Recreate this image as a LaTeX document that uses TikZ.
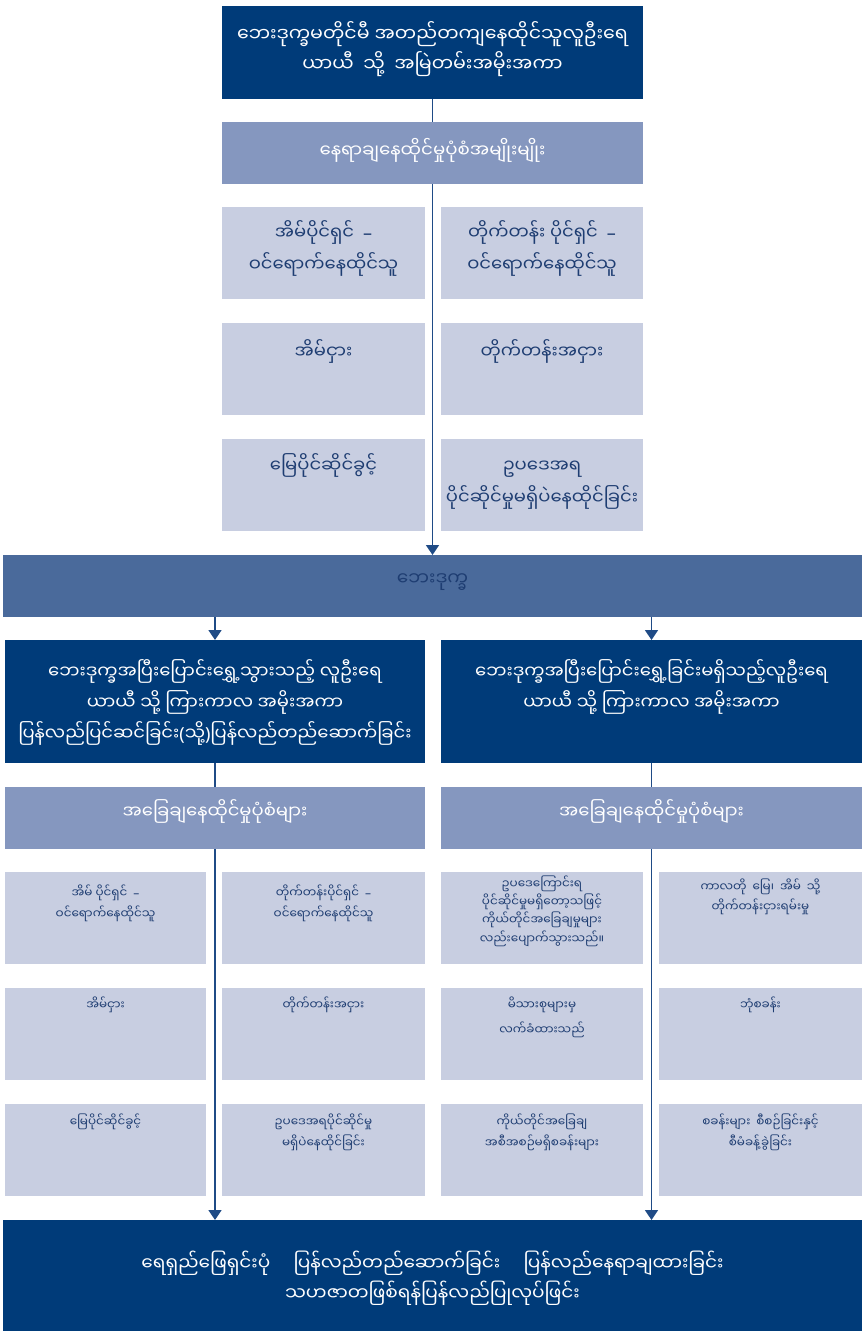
\documentclass[tikz,border=0pt]{standalone}
\usepackage{fontspec}
\newfontfamily\mm[Script=Myanmar]{Noto Sans Myanmar UI}
\newfontfamily\latinfont{Noto Sans}
\newcommand\dash{{\latinfont –}}
\newcommand\lp{{\latinfont (}}
\newcommand\rp{{\latinfont )}}
\usetikzlibrary{arrows.meta}
\definecolor{navy}{HTML}{003B79}
\definecolor{bandblue}{HTML}{4A6A9B}
\definecolor{midblue}{HTML}{8597BF}
\definecolor{paleblue}{HTML}{C8CEE1}
\definecolor{inkblue}{HTML}{1E3D72}
\definecolor{linkblue}{HTML}{1F4B86}
\pgfdeclarelayer{back}
\pgfsetlayers{back,main}
% #1 name, #2 cell style, #3 x, #4 y, #5 width, #6 height,
% #7 first baseline below top, #8 extra text keys, #9 text
\newcommand\panel[9]{%
  \node[#2, minimum width=#5pt, minimum height=#6pt] (#1) at (#3,#4) {};
  \node[#2 text, #8] (#1-t) at ([yshift={24pt-#7pt}]#1.north) {\rule{0pt}{24pt}#9};
}
\begin{document}
\begin{tikzpicture}[x=1pt, y=-1pt,
  cellbase/.style={anchor=north west, inner sep=0pt, outer sep=0pt},
  textbase/.style={anchor=north, inner sep=0pt, align=center},
  dark/.style={cellbase, fill=navy},
  dark text/.style={textbase, text=white, font=\mm\fontsize{18.5}{31}\selectfont},
  band/.style={cellbase, fill=bandblue},
  band text/.style={textbase, text=inkblue, font=\mm\fontsize{18.5}{30}\selectfont},
  mid/.style={cellbase, fill=midblue},
  mid text/.style={textbase, text=white, font=\mm\fontsize{18.2}{30}\selectfont},
  sub/.style={cellbase, fill=midblue},
  sub text/.style={textbase, text=white, font=\mm\fontsize{18}{30}\selectfont},
  pale/.style={cellbase, fill=paleblue},
  pale text/.style={textbase, text=inkblue, font=\mm\fontsize{18}{32}\selectfont},
  small/.style={cellbase, fill=paleblue},
  small text/.style={textbase, text=inkblue, font=\mm\fontsize{12}{21}\selectfont},
  conn/.style={draw=linkblue, line width=1.5pt},
  arrow/.style={conn, -{Triangle[width=13pt,length=10pt]}}
]
\useasboundingbox (0,0) rectangle (862,1331);

% top: settled population before the disaster
\panel{before}{dark}{222}{6}{421}{93}{35}{font=\mm\fontsize{19}{30}\selectfont}{ဘေးဒုက္ခမတိုင်မီ အတည်တကျနေထိုင်သူလူဦးရေ\\ယာယီ\enspace သို့\enspace အမြဲတမ်းအမိုးအကာ}
\panel{kinds}{mid}{222}{122}{421}{62}{35}{}{နေရာချနေထိုင်မှုပုံစံအမျိုးမျိုး}

% tenure types before the disaster
\panel{ownhouse}{pale}{222}{207}{203}{92}{32}{}{အိမ်ပိုင်ရှင်\enspace\dash\\ဝင်ရောက်နေထိုင်သူ}
\panel{ownflat}{pale}{441}{207}{202}{92}{32}{}{တိုက်တန်း ပိုင်ရှင်\enspace\dash\\ဝင်ရောက်နေထိုင်သူ}
\panel{renthouse}{pale}{222}{323}{203}{92}{35}{}{အိမ်ငှား}
\panel{rentflat}{pale}{441}{323}{202}{92}{35}{}{တိုက်တန်းအငှား}
\panel{landright}{pale}{222}{439}{203}{92}{33}{}{မြေပိုင်ဆိုင်ခွင့်}
\panel{informal}{pale}{441}{439}{202}{92}{33}{}{ဥပဒေအရ\\ပိုင်ဆိုင်မှုမရှိပဲနေထိုင်ခြင်း}

% the disaster
\panel{disaster}{band}{3}{555}{859}{62}{30}{}{ဘေးဒုက္ခ}

% two branches after the disaster
\panel{moved}{dark}{5}{640}{420}{123}{38}{font=\mm\fontsize{18}{31}\selectfont}{ဘေးဒုက္ခအပြီးပြောင်းရွှေ့သွားသည့် လူဦးရေ\\ယာယီ သို့ ကြားကာလ အမိုးအကာ\\ပြန်လည်ပြင်ဆင်ခြင်း\lp သို့\rp ပြန်လည်တည်ဆောက်ခြင်း}
\panel{stayed}{dark}{441}{640}{421}{123}{38}{font=\mm\fontsize{18}{31}\selectfont}{ဘေးဒုက္ခအပြီးပြောင်းရွှေ့ခြင်းမရှိသည့်လူဦးရေ\\ယာယီ သို့ ကြားကာလ အမိုးအကာ}
\panel{movedset}{sub}{5}{787}{420}{62}{31}{}{အခြေချနေထိုင်မှုပုံစံများ}
\panel{stayedset}{sub}{441}{787}{421}{62}{31}{}{အခြေချနေထိုင်မှုပုံစံများ}

% settlement options, four columns
\panel{c1a}{small}{5}{872}{201}{92}{25}{}{အိမ် ပိုင်ရှင်\enspace\dash\\ဝင်ရောက်နေထိုင်သူ}
\panel{c2a}{small}{222}{872}{203}{92}{25}{}{တိုက်တန်းပိုင်ရှင်\enspace\dash\\ဝင်ရောက်နေထိုင်သူ}
\panel{c3a}{small}{441}{872}{202}{92}{16}{font=\mm\fontsize{12}{18.3}\selectfont}{ဥပဒေကြောင်းရ\\ပိုင်ဆိုင်မှုမရှိတော့သဖြင့်\\ကိုယ်တိုင်အခြေချမှုများ\\လည်းပျောက်သွားသည်။}
\panel{c4a}{small}{659}{872}{203}{92}{19}{font=\mm\fontsize{12}{20}\selectfont}{ကာလတို\enspace မြေ၊\enspace အိမ်\enspace သို့\\တိုက်တန်းငှားရမ်းမှု}

\panel{c1b}{small}{5}{988}{201}{92}{21}{}{အိမ်ငှား}
\panel{c2b}{small}{222}{988}{203}{92}{21}{}{တိုက်တန်းအငှား}
\panel{c3b}{small}{441}{988}{202}{92}{21}{font=\mm\fontsize{12}{25}\selectfont}{မိသားစုများမှ\\လက်ခံထားသည်}
\panel{c4b}{small}{659}{988}{203}{92}{21}{}{ဘုံစခန်း}

\panel{c1c}{small}{5}{1104}{201}{92}{22}{}{မြေပိုင်ဆိုင်ခွင့်}
\panel{c2c}{small}{222}{1104}{203}{92}{22}{}{ဥပဒေအရပိုင်ဆိုင်မှု\\မရှိပဲနေထိုင်ခြင်း}
\panel{c3c}{small}{441}{1104}{202}{92}{22}{}{ကိုယ်တိုင်အခြေချ\\အစီအစဉ်မရှိစခန်းများ}
\panel{c4c}{small}{659}{1104}{203}{92}{22}{}{စခန်းများ\enspace စီစဉ်ခြင်းနှင့်\\စီမံခန့်ခွဲခြင်း}

% long-term outcome
\panel{outcome}{dark}{3}{1220}{859}{111}{50}{font=\mm\fontsize{18.5}{30}\selectfont}{ရေရှည်ဖြေရှင်းပုံ \quad ပြန်လည်တည်ဆောက်ခြင်း \quad ပြန်လည်နေရာချထားခြင်း\\သဟဇာတဖြစ်ရန်ပြန်လည်ပြုလုပ်ဖြင်း}

% connectors run behind the cells
\begin{pgfonlayer}{back}
  \draw[arrow] (before.south) -- (disaster.north);
  \draw[arrow] (disaster.south -| moved.north) -- (moved.north);
  \draw[arrow] (disaster.south -| stayed.north) -- (stayed.north);
  \draw[arrow] (moved.south) -- (outcome.north -| moved.south);
  \draw[arrow] (stayed.south) -- (outcome.north -| stayed.south);
\end{pgfonlayer}
\end{tikzpicture}
\end{document}
